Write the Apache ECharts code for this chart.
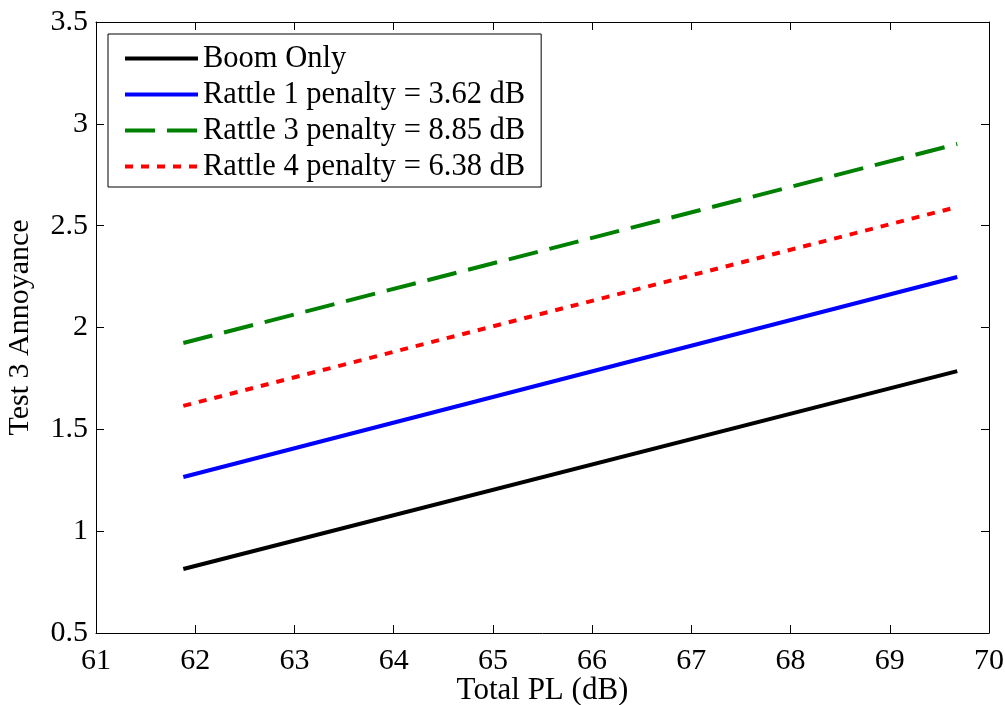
<!DOCTYPE html>
<html>
<head>
<meta charset="utf-8">
<script src="https://cdn.jsdelivr.net/npm/echarts@6/dist/echarts.min.js"></script>
<style>
html,body{margin:0;padding:0;background:#fff;}
#chart{width:1005px;height:705px;}
</style>
</head>
<body>
<div id="chart"></div>
<script>
// Data
const xValues = [61.88, 69.68];
const boomOnly = [0.814, 1.786];
const rattle1 = [1.266, 2.248];
const rattle3 = [1.924, 2.901];
const rattle4 = [1.615, 2.592];
const seriesNames = ['Boom Only', 'Rattle 1 penalty = 3.62 dB', 'Rattle 3 penalty = 8.85 dB', 'Rattle 4 penalty = 6.38 dB'];
const xLabel = 'Total PL (dB)';
const yLabel = 'Test 3 Annoyance';

const FONT = "'Liberation Serif', 'Times New Roman', serif";
const FS = 30;

function pairs(ys) { return xValues.map((x, i) => [x, ys[i]]); }

const baseAxisX = {
  type: 'value', min: 61, max: 70, interval: 1,
  axisLine: { show: true, onZero: false, lineStyle: { color: '#000', width: 1 } },
  axisTick: { show: true, inside: true, length: 8, lineStyle: { color: '#000', width: 1 } },
  splitLine: { show: false }
};
const baseAxisY = {
  type: 'value', min: 0.5, max: 3.5, interval: 0.5,
  axisLine: { show: true, onZero: false, lineStyle: { color: '#000', width: 1 } },
  axisTick: { show: true, inside: true, length: 8, lineStyle: { color: '#000', width: 1 } },
  splitLine: { show: false }
};

const chart = echarts.init(document.getElementById('chart'), null, { renderer: 'canvas' });
chart.setOption({
  animation: false,
  backgroundColor: '#fff',
  textStyle: { fontFamily: FONT },
  grid: { left: 96, right: 16, top: 22, bottom: 72, containLabel: false, outerBoundsMode: 'none' },
  xAxis: [
    Object.assign({}, baseAxisX, {
      position: 'bottom',
      name: xLabel, nameLocation: 'middle', nameGap: 42, nameMoveOverlap: false,
      nameTextStyle: { fontFamily: FONT, fontSize: 31, color: '#000' },
      axisLabel: { show: true, margin: 13, fontFamily: FONT, fontSize: FS, color: '#000' }
    }),
    Object.assign({}, baseAxisX, { position: 'top', axisLabel: { show: false } })
  ],
  yAxis: [
    Object.assign({}, baseAxisY, {
      position: 'left',
      name: yLabel, nameLocation: 'middle', nameGap: 61, nameRotate: 90, nameMoveOverlap: false,
      nameTextStyle: { fontFamily: FONT, fontSize: FS, color: '#000' },
      axisLabel: { show: true, margin: 8, fontFamily: FONT, fontSize: FS, color: '#000' }
    }),
    Object.assign({}, baseAxisY, { position: 'right', axisLabel: { show: false } })
  ],
  legend: {
    show: true,
    orient: 'vertical',
    left: 108, top: 34,
    padding: [9, 16, 5, 15],
    itemWidth: 73, itemHeight: 30, itemGap: 5,
    backgroundColor: '#fff',
    borderColor: '#000', borderWidth: 1,
    itemStyle: { opacity: 0 },
    lineStyle: { width: 4 },
    textStyle: { fontFamily: FONT, fontSize: 30.5, color: '#000', lineHeight: 30 },
    data: seriesNames
  },
  series: [
    { name: seriesNames[0], type: 'line', data: pairs(boomOnly), symbol: 'none', lineStyle: { color: '#000000', width: 4, type: 'solid' }, itemStyle: { color: '#000000' } },
    { name: seriesNames[1], type: 'line', data: pairs(rattle1), symbol: 'none', lineStyle: { color: '#0000ff', width: 4, type: 'solid' }, itemStyle: { color: '#0000ff' } },
    { name: seriesNames[2], type: 'line', data: pairs(rattle3), symbol: 'none', lineStyle: { color: '#008000', width: 4, type: [30, 12] }, itemStyle: { color: '#008000' } },
    { name: seriesNames[3], type: 'line', data: pairs(rattle4), symbol: 'none', lineStyle: { color: '#ff0000', width: 4, type: [8, 8] }, itemStyle: { color: '#ff0000' } }
  ]
});
</script>
</body>
</html>
